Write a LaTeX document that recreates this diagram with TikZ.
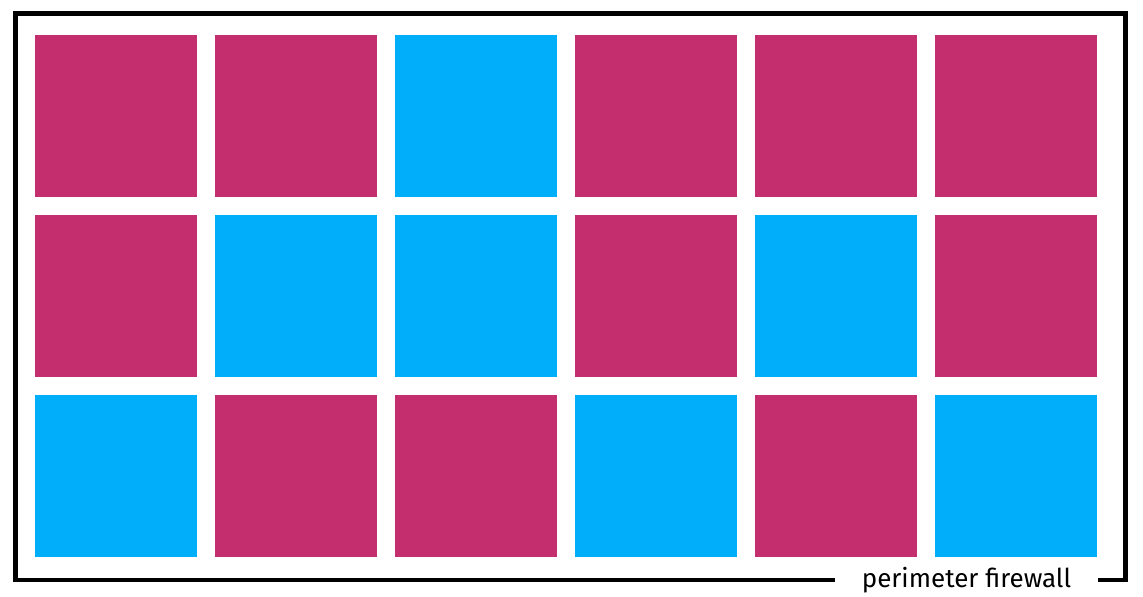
\documentclass[tikz,border=0pt]{standalone}
\usepackage{fontspec}
\setmainfont{Fira Sans}
\definecolor{zonered}{RGB}{196,46,110}
\definecolor{zoneblue}{RGB}{0,174,250}
\tikzset{
	zone/.style={minimum width=3.24cm, minimum height=3.24cm, inner sep=0pt, outer sep=0pt, anchor=north west},
	firewall/.style={line width=2.8pt, line cap=butt, line join=miter}
}
\begin{document}
\begin{tikzpicture}[x=0.02cm, y=-0.02cm, font=\fontsize{14.8}{17}\selectfont]
	\useasboundingbox (0,0) rectangle (1143,596);
	\def\pitch{180} \def\off{35} % pixels
	% zone colours, row by row
	\foreach \c [count=\i from 0] in {zonered,zonered,zoneblue,zonered,zonered,zonered,
		zonered,zoneblue,zoneblue,zonered,zoneblue,zonered,
		zoneblue,zonered,zonered,zoneblue,zonered,zoneblue}{
		\pgfmathtruncatemacro\row{\i/6}
		\pgfmathtruncatemacro\col{\i-6*\row}
		\node[zone, fill=\c] (z\row\col) at (\off+\col*\pitch,\off+\row*\pitch) {};
	}
	% perimeter
	\coordinate (nw) at (15.5,13.5);
	\coordinate (se) at (1125.5,580);
	\draw[firewall] (nw) rectangle (se);
	\node[fill=white, inner xsep=0.54cm, inner ysep=4pt] (fw) at (966.5,580) {perimeter firewall};
\end{tikzpicture}
\end{document}
